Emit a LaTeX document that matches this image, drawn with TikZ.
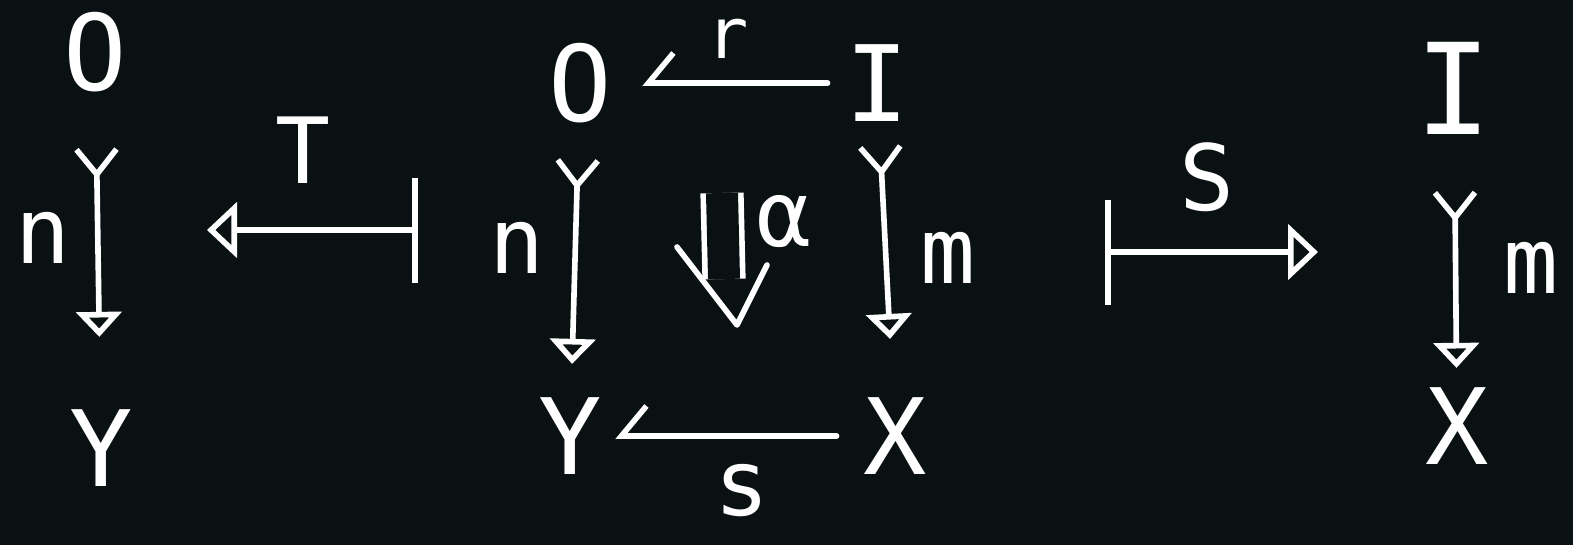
\documentclass[tikz,border=0pt]{standalone}
\usepackage{fontspec}
\setmainfont{DejaVu Sans Mono}
\usetikzlibrary{arrows.meta}
\definecolor{BoardBlack}{HTML}{0A1112}
\definecolor{ChalkWhite}{HTML}{FFFFFF}

\begin{document}
\begin{tikzpicture}[line cap=round,line join=round,
  obj/.style={text=ChalkWhite,inner sep=0pt,font=\fontsize{30}{34}\selectfont},
  lbl/.style={text=ChalkWhite,inner sep=0pt,font=\fontsize{26}{30}\selectfont},
  mono/.style={ChalkWhite,line width=1.6pt,arrows={{Straight Barb[reversed,length=2.5mm,width=4mm]}-{Triangle[open,length=2.5mm,width=4.5mm]}}},
  plain/.style={ChalkWhite,line width=1.6pt,-{Straight Barb[harpoon,swap,length=2.5mm,width=6mm]}},
  mapsto/.style={ChalkWhite,line width=1.6pt,arrows={Bar[width=10.5mm]-{Triangle[open,length=3mm,width=5.5mm]}}},
  cell/.style={ChalkWhite,line width=1.6pt,double=BoardBlack,double distance=3.2mm,line cap=butt}]
  \useasboundingbox (0,0) rectangle (15.73,5.45);
  \fill[BoardBlack] (0,0) rectangle (15.73,5.45);
  % left: n as a subobject
  \node[obj] (O0) at (0.95,4.93) {O};\node[obj] (Y0) at (1.01,0.97) {Y};
  \draw[mono,shorten <=5.4mm,shorten >=7.2mm] (O0) -- (Y0);
  \node[lbl] (n0) at (0.43,3.07) {n};
  \coordinate (Tsrc) at (4.18,3.15);\coordinate (Ttgt) at (2.07,3.15);
  \draw[mapsto] (Tsrc) -- (Ttgt);
  \node[lbl] (lblT) at (3.03,3.95) {T};
  % middle square
  \node[obj] (O1) at (5.80,4.62) {O};\node[obj] (I1) at (8.77,4.62) {I};
  \node[obj] (Y1) at (5.70,1.09) {Y};\node[obj] (X1) at (8.95,1.09) {X};
  \draw[plain,shorten <=1.7mm,shorten >=3mm] (I1) -- (O1);
  \draw[mono,shorten <=3.4mm,shorten >=3.3mm] (O1) -- (Y1);
  \draw[mono,shorten <=2.2mm,shorten >=5.8mm] (I1) -- (X1);
  \draw[plain,shorten <=2.6mm,shorten >=1.3mm] (X1) -- (Y1);
  \node[lbl,font=\fontsize{20}{24}\selectfont] (r1) at (7.28,5.06) {r};\node[lbl] (n1) at (5.17,2.97) {n};
  \node[lbl] (m1) at (9.48,2.87) {m};\node[lbl] (s1) at (7.42,0.54) {s};
  \coordinate (aTop) at (7.22,3.52);\coordinate (aBot) at (7.24,2.66);\coordinate (aTip) at (7.37,2.20);
  \draw[cell] (aTop) -- (aBot);
  \draw[ChalkWhite,line width=1.6pt] ([shift={(-0.60,0.78)}]aTip) -- (aTip) -- ([shift={(0.30,0.60)}]aTip);
  \node[lbl] (alpha) at (7.84,3.24) {α};
  % right: m as a subobject
  \coordinate (Ssrc) at (11.05,2.93);\coordinate (Stgt) at (13.18,2.93);
  \draw[mapsto] (Ssrc) -- (Stgt);
  \node[lbl] (lblS) at (12.07,3.68) {S};
  \node[obj,font=\fontsize{36}{40}\selectfont] (I2) at (14.54,4.57) {I};\node[obj] (X2) at (14.57,1.19) {X};
  \draw[mono,shorten <=5.5mm,shorten >=1.9mm] (I2) -- (X2);
  \node[lbl] (m2) at (15.31,2.77) {m};
\end{tikzpicture}
\end{document}
